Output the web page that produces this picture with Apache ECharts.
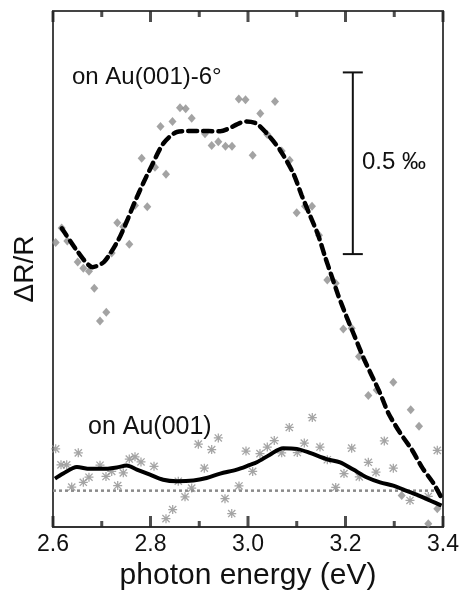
<!DOCTYPE html>
<html>
<head>
<meta charset="utf-8">
<script src="https://cdn.jsdelivr.net/npm/echarts@6/dist/echarts.min.js"></script>
<style>
html,body{margin:0;padding:0;background:#fff;}
#chart{width:461px;height:590px;}
</style>
</head>
<body>
<div id="chart"></div>
<script>
// ---- data ----
var xTicks = [2.6, 2.8, 3.0, 3.2, 3.4];
var xTickLabels = ['2.6', '2.8', '3.0', '3.2', '3.4'];
var xMinorTicks = [2.7, 2.9, 3.1, 3.3];
var yMin = -0.1, yMax = 1.32;

// on Au(001)-6° : measured points (diamonds)
var vicinalPoints = [
  [2.6055,0.683],[2.6178,0.723],[2.6293,0.687],[2.6507,0.629],[2.6622,0.612],[2.6738,0.604],
  [2.6847,0.557],[2.6964,0.467],[2.7093,0.491],[2.7204,0.654],[2.7319,0.737],[2.7442,0.726],
  [2.7565,0.678],[2.7682,0.785],[2.7819,0.915],[2.7934,0.781],[2.8092,0.890],[2.8205,1.002],
  [2.8318,0.871],[2.8451,1.016],[2.8605,1.054],[2.8722,1.051],[2.8845,1.025],[2.9118,0.982],
  [2.9255,0.950],[2.9391,0.960],[2.9538,0.948],[2.9672,0.948],[2.9811,1.078],[2.9949,1.076],
  [3.0096,0.923],[3.0252,1.038],[3.0396,0.980],[3.0554,1.071],[3.0691,0.935],[3.0855,0.909],
  [3.0999,0.765],[3.1169,0.783],[3.1313,0.783],[3.1456,0.703],[3.1627,0.580],[3.1799,0.571],
  [3.1955,0.445],[3.2127,0.447],[3.2277,0.369],[3.2468,0.262],[3.2640,0.277],[3.2981,0.298],
  [3.3153,-0.013],[3.3338,0.223],[3.3508,0.177],[3.3698,-0.091],[3.3883,-0.050]
];
// on Au(001)-6° : fitted curve (dashed)
var vicinalFit = [
  [2.618,0.722],[2.651,0.657],[2.681,0.615],[2.705,0.630],[2.734,0.690],[2.751,0.740],
  [2.768,0.795],[2.785,0.846],[2.802,0.893],[2.826,0.955],[2.854,0.987],[2.895,0.990],
  [2.943,0.989],[2.984,1.012],[2.997,1.016],[3.018,1.010],[3.045,0.973],[3.066,0.937],
  [3.093,0.873],[3.110,0.813],[3.127,0.758],[3.144,0.703],[3.158,0.644],[3.172,0.589],
  [3.185,0.538],[3.202,0.479],[3.219,0.424],[3.237,0.365],[3.271,0.268],[3.288,0.213],
  [3.312,0.159],[3.336,0.113],[3.358,0.062],[3.380,0.021],[3.397,-0.020]
];
// on Au(001) : measured points (asterisks)
var flatPoints = [
  [2.6055,0.115],[2.6164,0.071],[2.6281,0.071],[2.6384,0.010],[2.6519,0.104],[2.6622,0.023],
  [2.6738,0.037],[2.6964,0.070],[2.7087,0.039],[2.7204,0.053],[2.7327,0.014],[2.7442,0.049],
  [2.7565,0.087],[2.7682,0.093],[2.7805,0.079],[2.8072,0.067],[2.8318,-0.077],[2.8455,-0.052],
  [2.8570,0.026],[2.8708,-0.017],[2.8845,0.007],[2.8981,0.128],[2.9104,0.062],[2.9255,0.113],
  [2.9391,0.145],[2.9528,-0.022],[2.9666,-0.063],[2.9815,0.013],[2.9959,0.109],[3.0096,0.053],
  [3.0246,0.102],[3.0396,0.120],[3.0539,0.138],[3.0691,0.104],[3.0847,0.174],[3.1011,0.105],
  [3.1155,0.131],[3.1319,0.201],[3.1477,0.120],[3.1627,0.085],[3.1799,0.009],[3.1969,0.047],
  [3.2127,0.117],[3.2283,0.038],[3.2468,0.078],[3.2626,0.051],[3.2796,0.137],[3.2981,0.062],
  [3.3323,-0.027],[3.3698,-0.016],[3.3883,0.111]
];
// on Au(001) : fitted curve (solid)
var flatFit = [
  [2.604,0.033],[2.621,0.047],[2.649,0.065],[2.676,0.060],[2.703,0.060],[2.731,0.064],
  [2.751,0.069],[2.772,0.058],[2.799,0.044],[2.826,0.030],[2.854,0.026],[2.888,0.028],
  [2.915,0.035],[2.943,0.047],[2.977,0.058],[3.004,0.071],[3.018,0.078],[3.045,0.099],
  [3.072,0.117],[3.100,0.115],[3.127,0.104],[3.161,0.087],[3.189,0.078],[3.216,0.058],
  [3.243,0.037],[3.271,0.023],[3.298,0.014],[3.319,0.003],[3.346,-0.011],[3.373,-0.027],
  [3.397,-0.041]
];
var zeroLine = [[2.6,0],[3.4,0]];
// scale bar: x, y bottom, y top (0.5 ‰)
var scaleBar = [[3.215, 0.651, 1.151]];
var scaleBarLabel = '0.5 ‰';
var labelVicinal = 'on Au(001)-6°';
var labelFlat = 'on Au(001)';
var xTitle = 'photon energy (eV)';
var yTitle = 'ΔR/R';

var FONT = 'Liberation Sans, Arial, sans-serif';
var asterisk = 'path://M4.3 0L5.7 0L5.7 10L4.3 10Z M0 4.3L10 4.3L10 5.7L0 5.7Z M1.5 0.5L9.5 8.5L8.5 9.5L0.5 1.5Z M8.5 0.5L9.5 1.5L1.5 9.5L0.5 8.5Z';

// inward tick marks on the bottom and top frame
function tickItems(values, len) {
  var out = [];
  values.forEach(function (v) {
    out.push({value: [v, yMin], symbolSize: [3, len], symbolOffset: [0, -len / 2]});
    out.push({value: [v, yMax], symbolSize: [3, len], symbolOffset: [0, len / 2]});
  });
  return out;
}
var tickData = tickItems(xTicks, 11).concat(tickItems(xMinorTicks, 6));

var chart = echarts.init(document.getElementById('chart'));
chart.setOption({
  animation: false,
  grid: {left: 53, right: 18, top: 11, bottom: 63, outerBoundsMode: 'none',
    show: true, borderColor: '#444', borderWidth: 2},
  xAxis: {
    type: 'value', min: 2.6, max: 3.4, interval: 0.2,
    name: xTitle, nameLocation: 'middle', nameGap: 33,
    nameTextStyle: {fontFamily: FONT, fontSize: 30, color: '#111'},
    axisLine: {show: true, onZero: false, lineStyle: {color: '#333', width: 2}},
    axisTick: {show: false}, splitLine: {show: false},
    axisLabel: {show: true, margin: 6, fontFamily: FONT, fontSize: 23, color: '#111',
      formatter: function (v) { var i = xTicks.findIndex(function (t) { return Math.abs(t - v) < 1e-6; }); return i >= 0 ? xTickLabels[i] : ''; }}
  },
  yAxis: {
    type: 'value', min: yMin, max: yMax,
    name: yTitle, nameLocation: 'middle', nameGap: 14, nameRotate: 90,
    nameTextStyle: {fontFamily: FONT, fontSize: 28, color: '#111'},
    axisLine: {show: true, onZero: false, lineStyle: {color: '#444', width: 2}},
    axisTick: {show: false}, axisLabel: {show: false}, splitLine: {show: false}
  },
  graphic: [
    {type: 'text', left: 72, top: 65, style: {text: labelVicinal, font: '24px ' + FONT, fill: '#111'}},
    {type: 'text', left: 88, top: 415, style: {text: labelFlat, font: '25px ' + FONT, fill: '#111'}},
    {type: 'text', left: 362, top: 150, style: {text: scaleBarLabel, font: '24px ' + FONT, fill: '#111'}}
  ],
  series: [
    {type: 'line', data: zeroLine, symbol: 'none', z: 1,
      lineStyle: {color: '#8a8a8a', width: 2.5, type: [3, 3]}},
    {type: 'scatter', data: vicinalPoints, symbol: 'diamond', symbolSize: [8, 9], z: 2,
      itemStyle: {color: '#8c8c8c'}},
    {type: 'scatter', data: flatPoints, symbol: asterisk, symbolSize: 9, z: 2,
      itemStyle: {color: '#8f8f8f'}},
    {type: 'line', data: vicinalFit, symbol: 'none', smooth: 0.25, z: 3,
      lineStyle: {color: '#000', width: 4.5, type: [9, 6], cap: 'round'}},
    {type: 'line', data: flatFit, symbol: 'none', smooth: 0.3, z: 3,
      lineStyle: {color: '#000', width: 4}},
    {type: 'scatter', data: tickData, symbol: 'rect', clip: false, z: 6,
      itemStyle: {color: '#222'}},
    {type: 'custom', data: scaleBar, z: 4,
      renderItem: function (params, api) {
        var x = api.value(0);
        var p1 = api.coord([x, api.value(1)]);
        var p2 = api.coord([x, api.value(2)]);
        var st = {stroke: '#111', lineWidth: 2};
        return {type: 'group', children: [
          {type: 'line', shape: {x1: p1[0], y1: p1[1], x2: p2[0], y2: p2[1]}, style: st},
          {type: 'line', shape: {x1: p1[0] - 10, y1: p1[1], x2: p1[0] + 10, y2: p1[1]}, style: st},
          {type: 'line', shape: {x1: p2[0] - 10, y1: p2[1], x2: p2[0] + 10, y2: p2[1]}, style: st}
        ]};
      }}
  ]
});
</script>
</body>
</html>
